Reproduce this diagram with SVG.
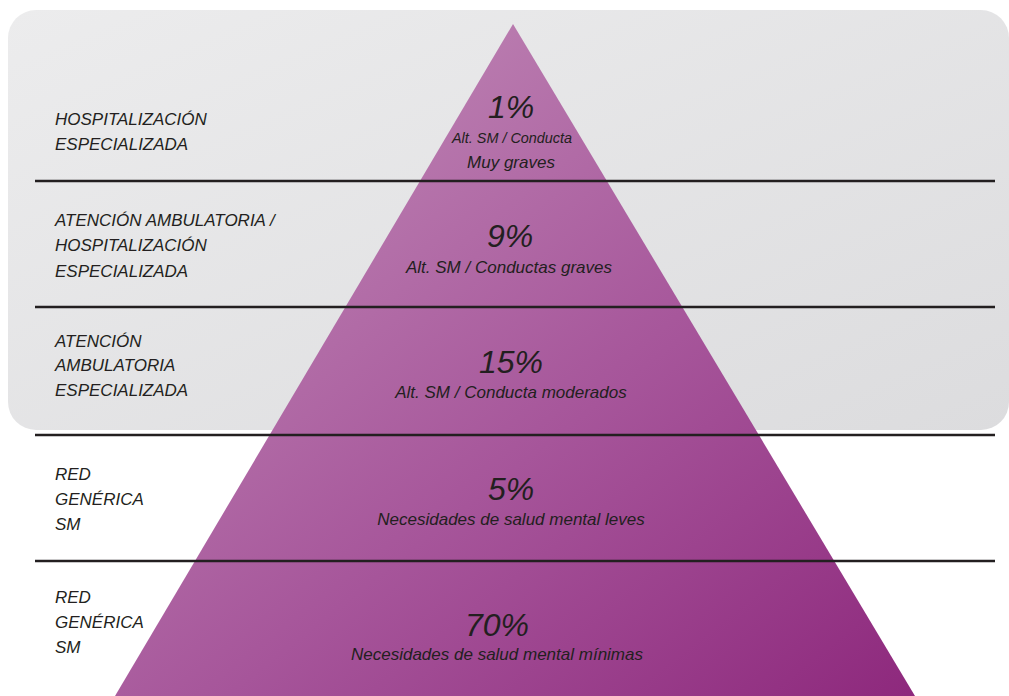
<svg xmlns="http://www.w3.org/2000/svg" width="1009" height="696" viewBox="0 0 1009 696">
<defs>
<linearGradient id="gray" x1="0" y1="0" x2="1" y2="1">
<stop offset="0" stop-color="#ececed"/>
<stop offset="1" stop-color="#dcdcde"/>
</linearGradient>
<linearGradient id="purple" gradientUnits="userSpaceOnUse" x1="380" y1="40" x2="900" y2="700">
<stop offset="0" stop-color="#bc81b2"/>
<stop offset="0.5" stop-color="#a6559a"/>
<stop offset="1" stop-color="#8e297d"/>
</linearGradient>
</defs>
<style>
text{font-family:"Liberation Sans",Arial,sans-serif;font-style:italic;fill:#231f20}
.lab{font-size:17px}
.pct{font-size:32px;text-anchor:middle}
.sub{font-size:17px;text-anchor:middle}
.sep{stroke:#231f20;stroke-width:2.5}
</style>
<rect x="8" y="10" width="1001" height="420" rx="28" ry="28" fill="url(#gray)"/>
<polygon id="pyramid" points="513,24 915,696 115,696" fill="url(#purple)"/>
<g id="separators">
<line class="sep" x1="35" y1="181" x2="995" y2="181"/>
<line class="sep" x1="35" y1="307" x2="995" y2="307"/>
<line class="sep" x1="35" y1="435" x2="995" y2="435"/>
<line class="sep" x1="35" y1="561" x2="995" y2="561"/>
</g>
<g id="tier1">
<text class="lab" x="55" y="125">HOSPITALIZACIÓN</text>
<text class="lab" x="55" y="150">ESPECIALIZADA</text>
<text class="pct" x="511" y="118">1%</text>
<text class="sub" x="512" y="143" style="font-size:14.5px" textLength="120" lengthAdjust="spacingAndGlyphs">Alt. SM / Conducta</text>
<text class="sub" x="511" y="168">Muy graves</text>
</g>
<g id="tier2">
<text class="lab" x="55" y="226">ATENCIÓN AMBULATORIA /</text>
<text class="lab" x="55" y="251">HOSPITALIZACIÓN</text>
<text class="lab" x="55" y="277">ESPECIALIZADA</text>
<text class="pct" x="510" y="247">9%</text>
<text class="sub" x="509" y="273">Alt. SM / Conductas graves</text>
</g>
<g id="tier3">
<text class="lab" x="55" y="347">ATENCIÓN</text>
<text class="lab" x="55" y="371">AMBULATORIA</text>
<text class="lab" x="55" y="396">ESPECIALIZADA</text>
<text class="pct" x="511" y="373">15%</text>
<text class="sub" x="511" y="398">Alt. SM / Conducta moderados</text>
</g>
<g id="tier4">
<text class="lab" x="55" y="480">RED</text>
<text class="lab" x="55" y="505">GENÉRICA</text>
<text class="lab" x="55" y="530">SM</text>
<text class="pct" x="511" y="500">5%</text>
<text class="sub" x="511" y="525">Necesidades de salud mental leves</text>
</g>
<g id="tier5">
<text class="lab" x="55" y="603">RED</text>
<text class="lab" x="55" y="628">GENÉRICA</text>
<text class="lab" x="55" y="653">SM</text>
<text class="pct" x="497" y="636">70%</text>
<text class="sub" x="497" y="660">Necesidades de salud mental mínimas</text>
</g>
</svg>
